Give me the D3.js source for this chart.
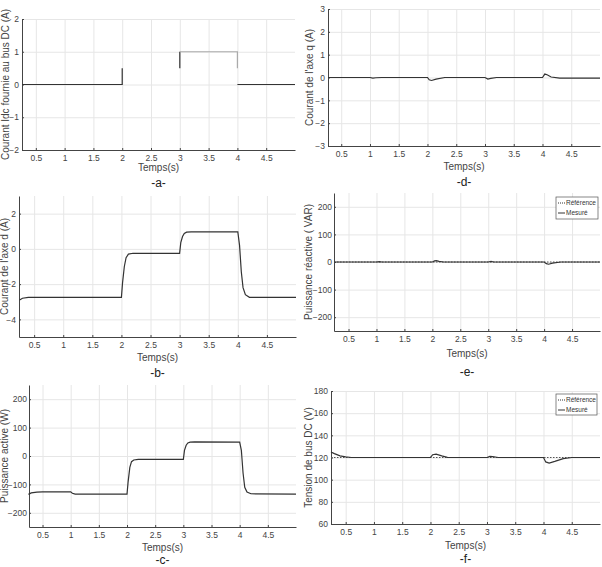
<!DOCTYPE html>
<html lang="fr">
<head>
    <meta charset="UTF-8">
    <title>Résultats de simulation</title>
    <style>
        body { margin: 0; background: #fff; }
        text { font-family: "Liberation Sans", Arial, sans-serif; fill: #333; }
        .tick text { font-size: 8.5px; fill: #444; }
        .tick line { stroke: #444; }
        .grid line { stroke: #e6e6e6; }
        .grid path { display: none; }
        .domain { stroke: #444; }
        .axis-label { font-size: 10px; fill: #444; }
        .panel-tag { font-size: 12px; fill: #222; }
        .legend text { font-size: 6.5px; fill: #333; }
    </style>
</head>
<body>
<svg width="602" height="567"></svg>
<script src="https://d3js.org/d3.v7.min.js"></script>
<script>

    // x ticks shared by all panels
    const xTickValues = [0.5, 1, 1.5, 2, 2.5, 3, 3.5, 4, 4.5];

    // -a- Courant Idc
    const aTime  = [0.26, 2, 2, null, 3, 3, 4, 4, 4, 5];
    const aDark  = [0, 0, 0.5, null, 0.5, 1, null, null, 0, 0];
    const aLightTime = [3, 4, 4];
    const aLight = [1, 1, 0.5];

    // -b- Courant de l'axe d
    const bTime = [0.25, 0.3, 0.4, 0.6, 2.0, 2.02, 2.05, 2.08, 2.12, 2.2, 3.0, 3.02, 3.05, 3.08, 3.12, 3.2, 4.0, 4.03, 4.06, 4.09, 4.13, 4.2, 5.0];
    const bVal  = [-2.9, -2.8, -2.75, -2.75, -2.75, -1.9, -1.0, -0.5, -0.3, -0.25, -0.25, 0.35, 0.7, 0.88, 0.95, 0.97, 0.97, 0.2, -1.3, -2.2, -2.6, -2.75, -2.75];

    // -c- Puissance active
    const cTime = [0.25, 0.3, 0.4, 0.5, 1.0, 1.03, 1.08, 1.2, 2.0, 2.02, 2.05, 2.08, 2.12, 2.2, 3.0, 3.02, 3.05, 3.08, 3.12, 3.2, 4.0, 4.03, 4.06, 4.09, 4.13, 4.2, 5.0];
    const cVal  = [-135, -130, -127, -126, -126, -131, -134, -134, -134, -90, -40, -20, -14, -12, -12, 20, 38, 46, 49, 50, 49, 20, -60, -110, -127, -133, -134];

    // -d- Courant de l'axe q
    const dTime = [0.27, 1.0, 1.05, 1.1, 1.2, 2.0, 2.03, 2.07, 2.15, 2.3, 3.0, 3.05, 3.1, 3.2, 4.0, 4.04, 4.08, 4.15, 4.3, 5.0];
    const dVal  = [0, 0, -0.03, -0.01, 0, 0, -0.1, -0.13, -0.07, 0, 0, -0.07, -0.04, 0, 0, 0.15, 0.12, 0.02, -0.03, -0.03];

    // -e- Puissance réactive
    const eTime = [0.24, 1.0, 1.05, 1.1, 2.0, 2.04, 2.07, 2.12, 2.2, 3.0, 3.05, 3.1, 4.0, 4.04, 4.08, 4.15, 4.3, 5.0];
    const eMes  = [0, 0, 1, 0, 0, 4, 5, 2, 0, 0, 2, 0, 0, -6, -8, -4, 0, 0];
    const eRefTime = [0.24, 5.0];
    const eRef  = [0, 0];

    // -f- Tension de bus DC
    const fTime = [0.24, 0.3, 0.4, 0.5, 0.6, 2.0, 2.04, 2.1, 2.2, 2.3, 3.0, 3.05, 3.1, 3.2, 4.0, 4.04, 4.1, 4.2, 4.35, 4.5, 5.0];
    const fMes  = [125, 123.5, 121.5, 120.5, 120, 120, 122.5, 123, 121.5, 120.2, 120, 121, 120.8, 120, 120, 116, 115, 116.5, 119, 120, 120];
    const fRefTime = [0.24, 5.0];
    const fRef  = [120, 120];

    const legendLabels = ['Référence', 'Mesuré'];

    const svg = d3.select('svg');
    const fmt = d3.format('~g');

    function zip(t, v) {
        return t.map(function (x, i) { return { t: x, v: v[i] }; });
    }

    function panel(cfg) {
        const x = d3.scaleLinear().domain(cfg.xDomain).range([cfg.left, cfg.right]);
        const y = d3.scaleLinear().domain(cfg.yDomain).range([cfg.bottom, cfg.top]);
        const g = svg.append('g');

        // grid
        g.append('g').attr('class', 'grid')
            .attr('transform', 'translate(0,' + cfg.top + ')')
            .call(d3.axisBottom(x).tickValues(xTickValues).tickSize(cfg.bottom - cfg.top).tickFormat(''));
        g.append('g').attr('class', 'grid')
            .attr('transform', 'translate(' + cfg.right + ',0)')
            .call(d3.axisLeft(y).tickValues(cfg.yTicks).tickSize(cfg.right - cfg.left).tickFormat(''));

        // axes
        g.append('g')
            .attr('transform', 'translate(0,' + cfg.bottom + ')')
            .call(d3.axisBottom(x).tickValues(xTickValues).tickFormat(fmt).tickSize(-2).tickPadding(5).tickSizeOuter(0));
        g.append('g')
            .attr('transform', 'translate(' + cfg.left + ',0)')
            .call(d3.axisLeft(y).tickValues(cfg.yTicks).tickFormat(fmt).tickSize(-2).tickPadding(cfg.yPad || 3).tickSizeOuter(0));

        const line = d3.line()
            .defined(function (d) { return d.t !== null && d.v !== null; })
            .x(function (d) { return x(d.t); })
            .y(function (d) { return y(d.v); });

        cfg.series.forEach(function (s) {
            g.append('path')
                .attr('fill', 'none')
                .attr('stroke', s.color)
                .attr('stroke-width', s.width || 1.2)
                .attr('stroke-dasharray', s.dash || null)
                .attr('d', line(zip(s.t, s.v)));
        });

        // labels
        g.append('text').attr('class', 'axis-label')
            .attr('x', (cfg.left + cfg.right) / 2).attr('y', cfg.xLabelY)
            .attr('text-anchor', 'middle').text('Temps(s)');
        g.append('text').attr('class', 'axis-label')
            .attr('transform', 'translate(' + cfg.yLabelX + ',' + ((cfg.top + cfg.bottom) / 2) + ') rotate(-90)')
            .attr('text-anchor', 'middle').text(cfg.yLabel);
        g.append('text').attr('class', 'panel-tag')
            .attr('x', (cfg.left + cfg.right) / 2).attr('y', cfg.tagY)
            .attr('text-anchor', 'middle').text(cfg.tag);

        if (cfg.legend) {
            const lg = g.append('g').attr('class', 'legend');
            const L = cfg.legend;
            lg.append('rect').attr('x', L.x).attr('y', L.y).attr('width', L.w).attr('height', L.h)
                .attr('fill', '#fff').attr('stroke', '#555').attr('stroke-width', 0.7);
            legendLabels.forEach(function (lab, i) {
                const yy = L.y + 6 + i * 10;
                lg.append('line').attr('x1', L.x + 2).attr('x2', L.x + 9).attr('y1', yy).attr('y2', yy)
                    .attr('stroke', '#333').attr('stroke-width', 1)
                    .attr('stroke-dasharray', i === 0 ? '1,1' : null);
                lg.append('text').attr('x', L.x + 10).attr('y', yy + 2.3).text(lab);
            });
        }
    }

    panel({
        left: 22, right: 295, top: 19, bottom: 150,
        xDomain: [0.26, 5], yDomain: [-2, 2], yTicks: [-2, -1, 0, 1, 2],
        xLabelY: 171, tagY: 187, tag: '-a-', yLabelX: 9,
        yLabel: 'Courant Idc fournie au bus DC (A)',
        series: [
            { t: aTime, v: aDark, color: '#333' },
            { t: aLightTime, v: aLight, color: '#aaa' }
        ]
    });

    panel({
        left: 328, right: 600, top: 9, bottom: 146,
        xDomain: [0.27, 5], yDomain: [-3, 3], yTicks: [-3, -2, -1, 0, 1, 2, 3],
        xLabelY: 170, tagY: 186, tag: '-d-', yLabelX: 313,
        yLabel: "Courant de l'axe q (A)",
        series: [{ t: dTime, v: dVal, color: '#333' }]
    });

    panel({
        left: 19, right: 296, top: 196, bottom: 337,
        xDomain: [0.24, 5], yDomain: [-5, 3], yTicks: [-4, -2, 0, 2],
        xLabelY: 361, tagY: 377, tag: '-b-', yLabelX: 8,
        yLabel: "Courant de l'axe d (A)",
        series: [{ t: bTime, v: bVal, color: '#333' }]
    });

    panel({
        left: 334, right: 600, top: 193, bottom: 331,
        xDomain: [0.24, 5], yDomain: [-250, 250], yTicks: [-200, -100, 0, 100, 200],
        xLabelY: 357, tagY: 376, tag: '-e-', yLabelX: 312, yPad: 2,
        yLabel: 'Puissance réactive ( VAR)',
        series: [
            { t: eRefTime, v: eRef, color: '#555', dash: '1.5,1.5', width: 1 },
            { t: eTime, v: eMes, color: '#333' }
        ],
        legend: { x: 556, y: 197, w: 42, h: 22 }
    });

    panel({
        left: 29, right: 296, top: 385, bottom: 527,
        xDomain: [0.26, 5], yDomain: [-250, 250], yTicks: [-200, -100, 0, 100, 200],
        xLabelY: 551, tagY: 564, tag: '-c-', yLabelX: 8, yPad: 2,
        yLabel: 'Puissance active (W)',
        series: [{ t: cTime, v: cVal, color: '#333' }]
    });

    panel({
        left: 331, right: 600, top: 391, bottom: 524,
        xDomain: [0.24, 5], yDomain: [60, 180], yTicks: [60, 80, 100, 120, 140, 160, 180],
        xLabelY: 549, tagY: 563, tag: '-f-', yLabelX: 312,
        yLabel: 'Tension de bus DC (V)',
        series: [
            { t: fRefTime, v: fRef, color: '#555', dash: '1.5,1.5', width: 1 },
            { t: fTime, v: fMes, color: '#333' }
        ],
        legend: { x: 556, y: 394, w: 41, h: 21 }
    });

</script>
</body>
</html>
